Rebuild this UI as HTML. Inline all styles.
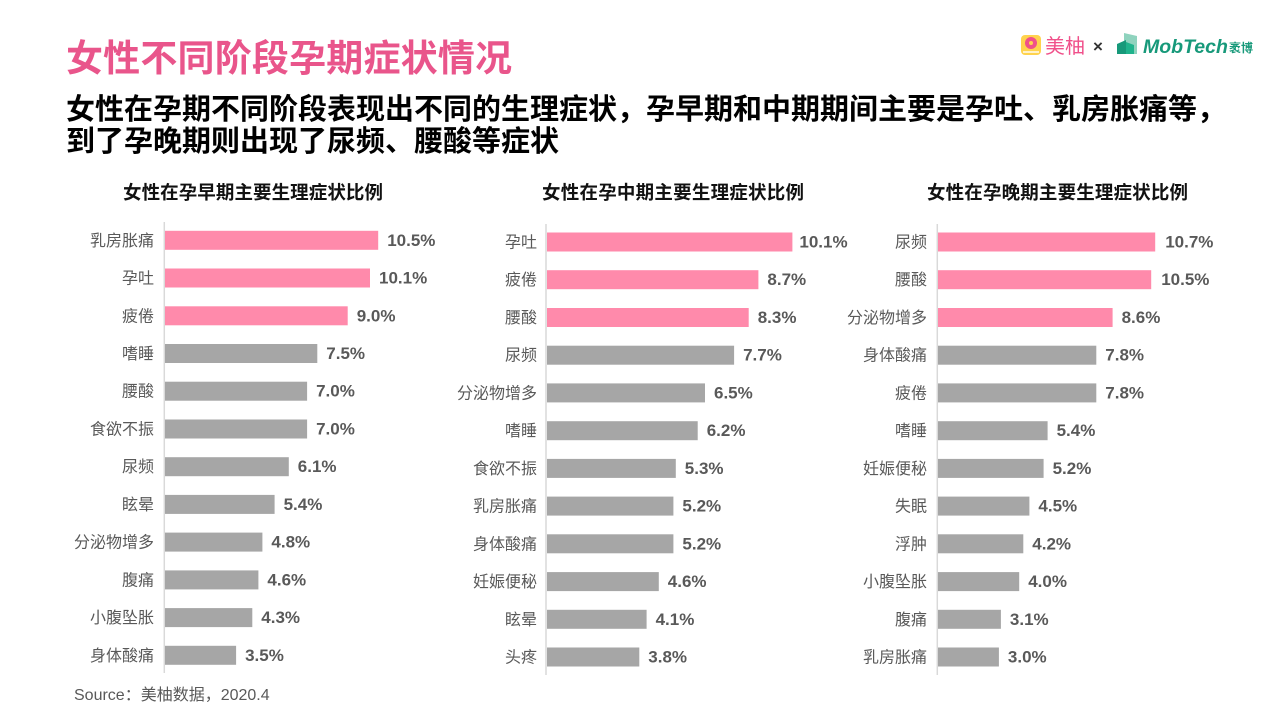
<!DOCTYPE html>
<html><head><meta charset="utf-8"><style>
html,body{margin:0;padding:0;background:#fff;}
svg{display:block;}
text{font-family:"Liberation Sans","Noto Sans CJK SC",sans-serif;}
.lab{font-size:16px;fill:#595959;text-anchor:end;dominant-baseline:central;}
.val{font-size:17px;font-weight:bold;fill:#595959;dominant-baseline:central;}
.pk{fill:#FF8AAB;}
.gy{fill:#A6A6A6;}
.ax{stroke:#D9D9D9;stroke-width:1.5;}
.ct{font-size:18.5px;font-weight:bold;fill:#111;}
</style></head><body>
<svg width="1280" height="720" viewBox="0 0 1280 720" xmlns="http://www.w3.org/2000/svg">
<!-- titles -->
<text x="66" y="71" font-size="37" font-weight="bold" fill="#E9558B" textLength="446" lengthAdjust="spacing">女性不同阶段孕期症状情况</text>
<text x="66" y="119" font-size="29" font-weight="bold" fill="#000" textLength="1160" lengthAdjust="spacing">女性在孕期不同阶段表现出不同的生理症状，孕早期和中期期间主要是孕吐、乳房胀痛等，</text>
<text x="66" y="151" font-size="29" font-weight="bold" fill="#000">到了孕晚期则出现了尿频、腰酸等症状</text>

<!-- logos -->
<rect x="1021" y="35" width="20" height="20" rx="4" fill="#FFD34D"/>
<circle cx="1031" cy="43" r="6" fill="#F0508A"/>
<circle cx="1031" cy="43" r="2" fill="#FFD34D"/>
<rect x="1023" y="51" width="16" height="2" fill="#fff" opacity="0.7"/>
<text x="1045" y="53" font-size="20" fill="#F0508A">美柚</text>
<text x="1093" y="52" font-size="17" font-weight="bold" fill="#333">×</text>
<polygon points="1124,33 1137,36 1137,54 1124,54" fill="#8FD3BE"/>
<polygon points="1117,44 1126,40 1126,54 1117,54" fill="#17997A"/>
<polygon points="1126,42 1134,45 1134,54 1126,54" fill="#1FB38C"/>
<text x="1143" y="53" font-size="19.5" font-weight="bold" font-style="italic" fill="#17997A">MobTech</text>
<text x="1229" y="52" font-size="12" font-weight="bold" fill="#17997A">袤博</text>

<!-- chart titles -->
<text class="ct" x="123" y="199" textLength="260" lengthAdjust="spacing">女性在孕早期主要生理症状比例</text>
<text class="ct" x="542" y="199" textLength="262" lengthAdjust="spacing">女性在孕中期主要生理症状比例</text>
<text class="ct" x="927" y="199" textLength="261" lengthAdjust="spacing">女性在孕晚期主要生理症状比例</text>

<!-- LEFT CHART -->
<line class="ax" x1="164.3" y1="222" x2="164.3" y2="673"/>
<rect class="pk" x="165" y="230.8" width="213.2" height="19"/>
<rect class="pk" x="165" y="268.5" width="205.0" height="19"/>
<rect class="pk" x="165" y="306.3" width="182.7" height="19"/>
<rect class="gy" x="165" y="344.0" width="152.3" height="19"/>
<rect class="gy" x="165" y="381.7" width="142.1" height="19"/>
<rect class="gy" x="165" y="419.5" width="142.1" height="19"/>
<rect class="gy" x="165" y="457.2" width="123.8" height="19"/>
<rect class="gy" x="165" y="494.9" width="109.6" height="19"/>
<rect class="gy" x="165" y="532.6" width="97.4" height="19"/>
<rect class="gy" x="165" y="570.4" width="93.4" height="19"/>
<rect class="gy" x="165" y="608.1" width="87.3" height="19"/>
<rect class="gy" x="165" y="645.8" width="71.1" height="19"/>
<text class="lab" x="154" y="241.3">乳房胀痛</text>
<text class="lab" x="154" y="279.0">孕吐</text>
<text class="lab" x="154" y="316.8">疲倦</text>
<text class="lab" x="154" y="354.5">嗜睡</text>
<text class="lab" x="154" y="392.2">腰酸</text>
<text class="lab" x="154" y="430.0">食欲不振</text>
<text class="lab" x="154" y="467.7">尿频</text>
<text class="lab" x="154" y="505.4">眩晕</text>
<text class="lab" x="154" y="543.1">分泌物增多</text>
<text class="lab" x="154" y="580.9">腹痛</text>
<text class="lab" x="154" y="618.6">小腹坠胀</text>
<text class="lab" x="154" y="656.3">身体酸痛</text>
<text class="val" x="387.2" y="240.3">10.5%</text>
<text class="val" x="379.0" y="278.0">10.1%</text>
<text class="val" x="356.7" y="315.8">9.0%</text>
<text class="val" x="326.3" y="353.5">7.5%</text>
<text class="val" x="316.1" y="391.2">7.0%</text>
<text class="val" x="316.1" y="429.0">7.0%</text>
<text class="val" x="297.8" y="466.7">6.1%</text>
<text class="val" x="283.6" y="504.4">5.4%</text>
<text class="val" x="271.4" y="542.1">4.8%</text>
<text class="val" x="267.4" y="579.9">4.6%</text>
<text class="val" x="261.3" y="617.6">4.3%</text>
<text class="val" x="245.1" y="655.3">3.5%</text>

<!-- MIDDLE CHART -->
<line class="ax" x1="546" y1="224" x2="546" y2="675"/>
<rect class="pk" x="547" y="232.5" width="245.4" height="19"/>
<rect class="pk" x="547" y="270.2" width="211.4" height="19"/>
<rect class="pk" x="547" y="308.0" width="201.7" height="19"/>
<rect class="gy" x="547" y="345.7" width="187.1" height="19"/>
<rect class="gy" x="547" y="383.4" width="158.0" height="19"/>
<rect class="gy" x="547" y="421.2" width="150.7" height="19"/>
<rect class="gy" x="547" y="458.9" width="128.8" height="19"/>
<rect class="gy" x="547" y="496.6" width="126.4" height="19"/>
<rect class="gy" x="547" y="534.3" width="126.4" height="19"/>
<rect class="gy" x="547" y="572.1" width="111.8" height="19"/>
<rect class="gy" x="547" y="609.8" width="99.6" height="19"/>
<rect class="gy" x="547" y="647.5" width="92.3" height="19"/>
<text class="lab" x="537" y="243.0">孕吐</text>
<text class="lab" x="537" y="280.7">疲倦</text>
<text class="lab" x="537" y="318.5">腰酸</text>
<text class="lab" x="537" y="356.2">尿频</text>
<text class="lab" x="537" y="393.9">分泌物增多</text>
<text class="lab" x="537" y="431.7">嗜睡</text>
<text class="lab" x="537" y="469.4">食欲不振</text>
<text class="lab" x="537" y="507.1">乳房胀痛</text>
<text class="lab" x="537" y="544.8">身体酸痛</text>
<text class="lab" x="537" y="582.6">妊娠便秘</text>
<text class="lab" x="537" y="620.3">眩晕</text>
<text class="lab" x="537" y="658.0">头疼</text>
<text class="val" x="799.4" y="242.0">10.1%</text>
<text class="val" x="767.4" y="279.7">8.7%</text>
<text class="val" x="757.7" y="317.5">8.3%</text>
<text class="val" x="743.1" y="355.2">7.7%</text>
<text class="val" x="714.0" y="392.9">6.5%</text>
<text class="val" x="706.7" y="430.7">6.2%</text>
<text class="val" x="684.8" y="468.4">5.3%</text>
<text class="val" x="682.4" y="506.1">5.2%</text>
<text class="val" x="682.4" y="543.8">5.2%</text>
<text class="val" x="667.8" y="581.6">4.6%</text>
<text class="val" x="655.6" y="619.3">4.1%</text>
<text class="val" x="648.3" y="657.0">3.8%</text>

<!-- RIGHT CHART -->
<line class="ax" x1="937.3" y1="224" x2="937.3" y2="675"/>
<rect class="pk" x="938" y="232.5" width="217.2" height="19"/>
<rect class="pk" x="938" y="270.2" width="213.2" height="19"/>
<rect class="pk" x="938" y="308.0" width="174.6" height="19"/>
<rect class="gy" x="938" y="345.7" width="158.3" height="19"/>
<rect class="gy" x="938" y="383.4" width="158.3" height="19"/>
<rect class="gy" x="938" y="421.2" width="109.6" height="19"/>
<rect class="gy" x="938" y="458.9" width="105.6" height="19"/>
<rect class="gy" x="938" y="496.6" width="91.4" height="19"/>
<rect class="gy" x="938" y="534.3" width="85.3" height="19"/>
<rect class="gy" x="938" y="572.1" width="81.2" height="19"/>
<rect class="gy" x="938" y="609.8" width="62.9" height="19"/>
<rect class="gy" x="938" y="647.5" width="60.9" height="19"/>
<text class="lab" x="927" y="243.0">尿频</text>
<text class="lab" x="927" y="280.7">腰酸</text>
<text class="lab" x="927" y="318.5">分泌物增多</text>
<text class="lab" x="927" y="356.2">身体酸痛</text>
<text class="lab" x="927" y="393.9">疲倦</text>
<text class="lab" x="927" y="431.7">嗜睡</text>
<text class="lab" x="927" y="469.4">妊娠便秘</text>
<text class="lab" x="927" y="507.1">失眠</text>
<text class="lab" x="927" y="544.8">浮肿</text>
<text class="lab" x="927" y="582.6">小腹坠胀</text>
<text class="lab" x="927" y="620.3">腹痛</text>
<text class="lab" x="927" y="658.0">乳房胀痛</text>
<text class="val" x="1165.2" y="242.0">10.7%</text>
<text class="val" x="1161.2" y="279.7">10.5%</text>
<text class="val" x="1121.6" y="317.5">8.6%</text>
<text class="val" x="1105.3" y="355.2">7.8%</text>
<text class="val" x="1105.3" y="392.9">7.8%</text>
<text class="val" x="1056.6" y="430.7">5.4%</text>
<text class="val" x="1052.6" y="468.4">5.2%</text>
<text class="val" x="1038.4" y="506.1">4.5%</text>
<text class="val" x="1032.3" y="543.8">4.2%</text>
<text class="val" x="1028.2" y="581.6">4.0%</text>
<text class="val" x="1009.9" y="619.3">3.1%</text>
<text class="val" x="1007.9" y="657.0">3.0%</text>

<!-- source -->
<text x="74" y="700" font-size="16" fill="#595959">Source：美柚数据，2020.4</text>
</svg>
</body></html>
